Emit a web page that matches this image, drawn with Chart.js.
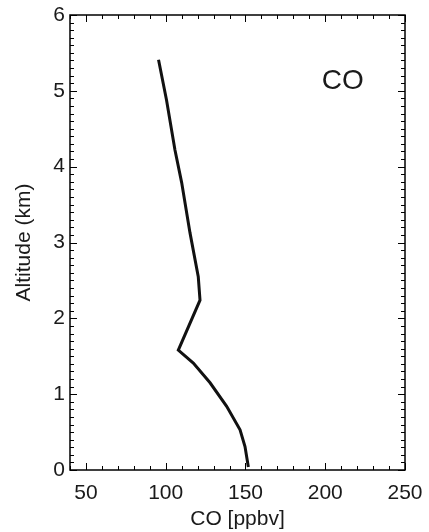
<!DOCTYPE html>
<html>
<head>
<meta charset="utf-8">
<script src="https://cdn.jsdelivr.net/npm/chart.js@4/dist/chart.umd.min.js"></script>
<style>
  html, body { margin: 0; padding: 0; background: #fff; }
  #wrap { width: 429px; height: 532px; position: relative; }
</style>
</head>
<body>
<div id="wrap"><canvas id="chart"></canvas></div>
<script>
// CO profile (ppbv vs km)
const coValues = [95.5, 100.5, 105.8, 110, 115.2, 120.4, 121.5, 107.9, 117.3, 127.8, 138.2, 146.6, 149.7, 151.8]
const altitudes = [5.41, 4.88, 4.22, 3.79, 3.13, 2.55, 2.24, 1.58, 1.41, 1.15, 0.84, 0.53, 0.31, 0.04]

const xTicks = [50, 100, 150, 200, 250]
const yTicks = [0, 1, 2, 3, 4, 5, 6]
const xMin = 40, xMax = 250, xMinorStep = 10
const yMin = 0, yMax = 6, yMinorStep = 0.1

const font = "'Liberation Sans', Arial, sans-serif"
const ink = '#1a1a1a'

// ticks pointing into the plot on all four sides, plus the frame
const inwardTicks = {
    id: 'inwardTicks',
    afterDatasetsDraw(chart) {
        const { ctx, chartArea: a, scales: { x, y } } = chart
        ctx.save()
        ctx.strokeStyle = '#000'
        ctx.lineWidth = 1
        ctx.beginPath()
        for (let v = xMin; v <= xMax + 1e-6; v += xMinorStep) {
            const px = Math.round(x.getPixelForValue(v)) + 0.5
            const len = xTicks.includes(Math.round(v)) ? 7 : 4
            ctx.moveTo(px, a.bottom); ctx.lineTo(px, a.bottom - len)
            ctx.moveTo(px, a.top); ctx.lineTo(px, a.top + len)
        }
        for (let i = 0; i <= Math.round((yMax - yMin) / yMinorStep); i++) {
            const v = yMin + i * yMinorStep
            const py = Math.round(y.getPixelForValue(v)) + 0.5
            const len = i % 10 === 0 ? 7 : 4
            ctx.moveTo(a.left, py); ctx.lineTo(a.left + len, py)
            ctx.moveTo(a.right, py); ctx.lineTo(a.right - len, py)
        }
        ctx.stroke()
        ctx.lineWidth = 1.5
        ctx.strokeRect(a.left, a.top, a.right - a.left, a.bottom - a.top)
        // species label inside the plot
        ctx.fillStyle = ink
        ctx.font = `28px ${font}`
        ctx.textAlign = 'center'
        ctx.textBaseline = 'middle'
        ctx.fillText('CO', x.getPixelForValue(211), y.getPixelForValue(5.13))
        ctx.restore()
    }
}

new Chart(document.getElementById('chart'), {
    type: 'line',
    data: {
        datasets: [{
            data: coValues.map((v, i) => ({ x: v, y: altitudes[i] })),
            borderColor: '#111',
            borderWidth: 3,
            pointRadius: 0,
            tension: 0,
            fill: false
        }]
    },
    options: {
        responsive: true,
        maintainAspectRatio: false,
        animation: false,
        layout: { padding: { left: 0, top: 15, right: 24, bottom: 0 } },
        plugins: { legend: { display: false }, tooltip: { enabled: false } },
        scales: {
            x: {
                type: 'linear',
                min: xMin,
                max: xMax,
                afterBuildTicks: (s) => { s.ticks = xTicks.map(v => ({ value: v })) },
                afterFit: (s) => { s.height = 62; s.paddingLeft = 0; s.paddingRight = 0 },
                grid: { display: false, drawTicks: false },
                border: { display: false },
                ticks: { color: ink, font: { family: font, size: 21 }, padding: 11, maxRotation: 0 },
                title: { display: true, text: 'CO [ppbv]', color: ink, font: { family: font, size: 21 }, padding: { top: -5, bottom: 0 } }
            },
            y: {
                type: 'linear',
                min: yMin,
                max: yMax,
                afterBuildTicks: (s) => { s.ticks = yTicks.map(v => ({ value: v })) },
                afterFit: (s) => { s.width = 70; s.paddingTop = 0; s.paddingBottom = 0 },
                grid: { display: false, drawTicks: false },
                border: { display: false },
                ticks: { color: ink, font: { family: font, size: 21 }, padding: 5 },
                title: { display: true, text: 'Altitude (km)', color: ink, font: { family: font, size: 21 }, padding: { top: 12, bottom: 0 } }
            }
        }
    },
    plugins: [inwardTicks]
})
</script>
</body>
</html>
